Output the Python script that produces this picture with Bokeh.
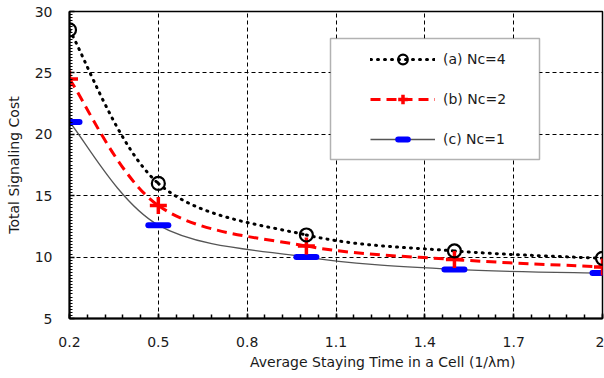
from bokeh.plotting import figure
from bokeh.models import FixedTicker, Legend, LegendItem, BoxAnnotation
from bokeh.embed import file_html
from bokeh.resources import INLINE
import numpy as np

# ---- data ----
x_vals = [0.2, 0.5, 1.0, 1.5, 2.0]
nc4 = [28.5, 16.0, 11.8, 10.5, 9.9]
nc2 = [24.5, 14.2, 10.9, 9.8, 9.2]
nc1 = [21.0, 12.6, 10.0, 9.0, 8.7]
series_labels = ["(a) Nc=4", "(b) Nc=2", "(c) Nc=1"]
x_ticks = [0.2, 0.5, 0.8, 1.1, 1.4, 1.7, 2.0]
x_tick_labels = ["0.2", "0.5", "0.8", "1.1", "1.4", "1.7", "2"]
y_ticks = [5, 10, 15, 20, 25, 30]
x_title = "Average Staying Time in a Cell (1/\u03bbm)"
y_title = "Total Signaling Cost"

FONT = "DejaVu Sans"
TXT = "#1a1a1a"


def smooth_segments(xs, ys):
    """Bezier control points of a spreadsheet-style smoothed line through the points."""
    n = len(xs)
    d = dict(x0=[], y0=[], x1=[], y1=[], cx0=[], cy0=[], cx1=[], cy1=[])
    for i in range(n - 1):
        pm = i - 1 if i > 0 else i
        pp = i + 2 if i + 2 < n else i + 1
        d["x0"].append(xs[i]); d["y0"].append(ys[i])
        d["x1"].append(xs[i + 1]); d["y1"].append(ys[i + 1])
        d["cx0"].append(xs[i] + (xs[i + 1] - xs[pm]) / 6)
        d["cy0"].append(ys[i] + (ys[i + 1] - ys[pm]) / 6)
        d["cx1"].append(xs[i + 1] - (xs[pp] - xs[i]) / 6)
        d["cy1"].append(ys[i + 1] - (ys[pp] - ys[i]) / 6)
    return d


p = figure(width=604, height=378, x_range=(0.2, 2.0), y_range=(5, 30),
           output_backend="svg", toolbar_location=None,
           min_border_left=69, min_border_right=2, min_border_top=11,
           min_border_bottom=60)
p.background_fill_color = "white"
p.border_fill_color = "white"
p.outline_line_color = "black"
p.outline_line_width = 1.5

# grids
p.xgrid.ticker = FixedTicker(ticks=x_ticks)
p.ygrid.ticker = FixedTicker(ticks=y_ticks)
for g in (p.xgrid, p.ygrid):
    g.grid_line_color = "black"
    g.grid_line_dash = "4 3"
    g.grid_line_width = 1

# axes
p.xaxis.ticker = FixedTicker(ticks=x_ticks,
                             minor_ticks=list(np.round(np.arange(0.2, 2.0001, 0.06), 4)))
p.xaxis.major_label_overrides = {t: l for t, l in zip(x_ticks, x_tick_labels)}
p.yaxis.ticker = FixedTicker(ticks=y_ticks,
                             minor_ticks=list(np.arange(5, 30.001, 0.25)))
for ax in (p.xaxis, p.yaxis):
    ax.axis_line_color = "black"
    ax.axis_line_width = 2
    ax.major_tick_in = 5
    ax.major_tick_out = 0
    ax.minor_tick_in = 4
    ax.minor_tick_out = 0
    ax.major_tick_line_color = "black"
    ax.minor_tick_line_color = "black"
    ax.major_tick_line_width = 1.5
    ax.minor_tick_line_width = 1.5
    ax.major_label_text_font = FONT
    ax.major_label_text_font_size = "14px"
    ax.major_label_text_color = TXT
    ax.axis_label_text_font = FONT
    ax.axis_label_text_font_size = "14px"
    ax.axis_label_text_font_style = "normal"
    ax.axis_label_text_color = TXT
p.yaxis.minor_tick_in = 3
p.yaxis.minor_tick_line_width = 1.2
p.yaxis.axis_label = y_title
p.yaxis.major_label_standoff = 17
p.yaxis.axis_label_standoff = 10
# x title sits right of the plot centre in the reference: pad with no-break spaces
p.xaxis.axis_label = "\u00a0" * 21 + x_title
p.xaxis.major_label_standoff = 18
p.xaxis.axis_label_standoff = 4

# series
c4 = smooth_segments(x_vals, nc4)
c2 = smooth_segments(x_vals, nc2)
c1 = smooth_segments(x_vals, nc1)

l1 = p.bezier(source=c1, x0="x0", y0="y0", x1="x1", y1="y1", cx0="cx0", cy0="cy0",
              cx1="cx1", cy1="cy1", line_color="#555555", line_width=1.3)
l2 = p.bezier(source=c2, x0="x0", y0="y0", x1="x1", y1="y1", cx0="cx0", cy0="cy0",
              cx1="cx1", cy1="cy1", line_color="#ff0000", line_width=3, line_dash="10 6")
l4 = p.bezier(source=c4, x0="x0", y0="y0", x1="x1", y1="y1", cx0="cx0", cy0="cy0",
              cx1="cx1", cy1="cy1", line_color="black", line_width=3, line_dash="1 6",
              line_cap="round")

m1 = p.scatter(x_vals, nc1, marker="dash", size=20, line_color="#0000ff",
               line_width=6, line_cap="round")
m2 = p.scatter(x_vals, nc2, marker="cross", size=17, line_color="#ff0000", line_width=3.5)
m4 = p.scatter(x_vals, nc4, marker="circle", size=13, fill_color=None,
               line_color="black", line_width=2.2)

# legend box
box = BoxAnnotation(left=261, right=470, bottom=159, top=280,
                    left_units="screen", right_units="screen",
                    bottom_units="screen", top_units="screen",
                    fill_color="white", fill_alpha=1,
                    line_color="black", line_width=1.5)
p.add_layout(box)

legend = Legend(items=[LegendItem(label=series_labels[0], renderers=[l4, m4]),
                       LegendItem(label=series_labels[1], renderers=[l2, m2]),
                       LegendItem(label=series_labels[2], renderers=[l1, m1])],
                location=(301, 167), padding=0, margin=0,
                glyph_width=65, glyph_height=24, label_height=24, spacing=16,
                label_standoff=8, border_line_alpha=0, background_fill_alpha=0,
                label_text_font=FONT, label_text_font_size="14px",
                label_text_color=TXT)
p.add_layout(legend)

open("out.html", "w").write(file_html(p, INLINE))
